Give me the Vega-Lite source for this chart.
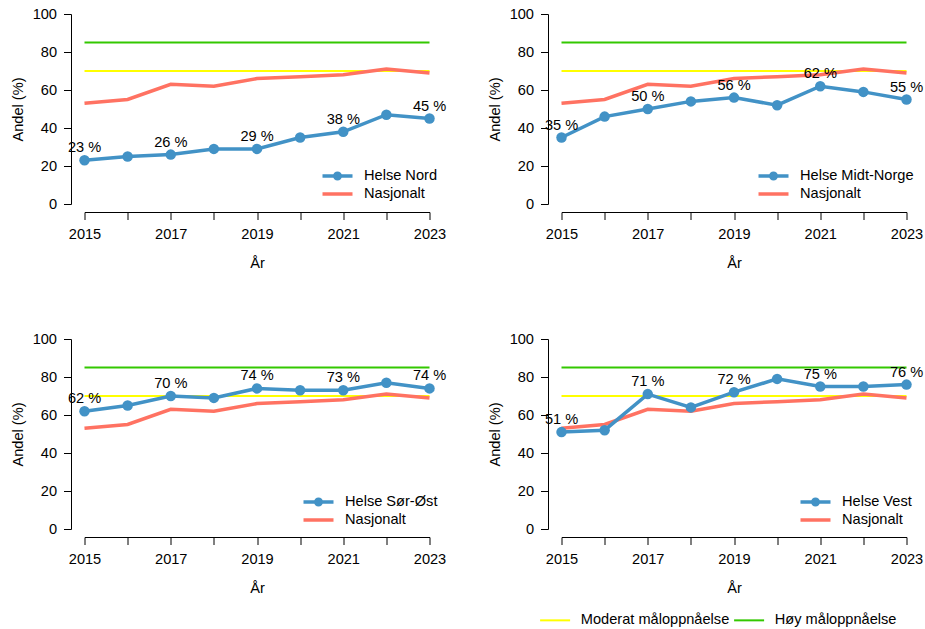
{
  "$schema": "https://vega.github.io/schema/vega-lite/v6.json",
  "padding": {"left": 9.5, "top": 6, "right": 5, "bottom": 5},
  "background": "white",
  "config": {
    "font": "Liberation Sans",
    "view": {"stroke": null},
    "axis": {"domainColor": "#000", "tickColor": "#000", "labelColor": "#000", "titleColor": "#000", "labelFontSize": 14.6, "titleFontSize": 14.6, "titleFontWeight": "normal", "grid": false, "tickSize": 7.5, "domainWidth": 1, "tickWidth": 1, "labelOverlap": false},
    "legend": {"labelFontSize": 14.6, "labelColor": "#000", "padding": 0}
  },
  "datasets": {
    "maal": [
      {"maal": "Moderat måloppnåelse", "andel": 70, "fra": 2015, "til": 2023},
      {"maal": "Høy måloppnåelse", "andel": 85, "fra": 2015, "til": 2023}
    ],
    "nasjonalt": [
      {"serie": "Nasjonalt", "aar": 2015, "andel": 53},
      {"serie": "Nasjonalt", "aar": 2016, "andel": 55},
      {"serie": "Nasjonalt", "aar": 2017, "andel": 63},
      {"serie": "Nasjonalt", "aar": 2018, "andel": 62},
      {"serie": "Nasjonalt", "aar": 2019, "andel": 66},
      {"serie": "Nasjonalt", "aar": 2020, "andel": 67},
      {"serie": "Nasjonalt", "aar": 2021, "andel": 68},
      {"serie": "Nasjonalt", "aar": 2022, "andel": 71},
      {"serie": "Nasjonalt", "aar": 2023, "andel": 69}
    ],
    "regioner": [
      {"serie": "Helse Nord", "aar": 2015, "andel": 23},
      {"serie": "Helse Nord", "aar": 2016, "andel": 25},
      {"serie": "Helse Nord", "aar": 2017, "andel": 26},
      {"serie": "Helse Nord", "aar": 2018, "andel": 29},
      {"serie": "Helse Nord", "aar": 2019, "andel": 29},
      {"serie": "Helse Nord", "aar": 2020, "andel": 35},
      {"serie": "Helse Nord", "aar": 2021, "andel": 38},
      {"serie": "Helse Nord", "aar": 2022, "andel": 47},
      {"serie": "Helse Nord", "aar": 2023, "andel": 45},
      {"serie": "Helse Midt-Norge", "aar": 2015, "andel": 35},
      {"serie": "Helse Midt-Norge", "aar": 2016, "andel": 46},
      {"serie": "Helse Midt-Norge", "aar": 2017, "andel": 50},
      {"serie": "Helse Midt-Norge", "aar": 2018, "andel": 54},
      {"serie": "Helse Midt-Norge", "aar": 2019, "andel": 56},
      {"serie": "Helse Midt-Norge", "aar": 2020, "andel": 52},
      {"serie": "Helse Midt-Norge", "aar": 2021, "andel": 62},
      {"serie": "Helse Midt-Norge", "aar": 2022, "andel": 59},
      {"serie": "Helse Midt-Norge", "aar": 2023, "andel": 55},
      {"serie": "Helse Sør-Øst", "aar": 2015, "andel": 62},
      {"serie": "Helse Sør-Øst", "aar": 2016, "andel": 65},
      {"serie": "Helse Sør-Øst", "aar": 2017, "andel": 70},
      {"serie": "Helse Sør-Øst", "aar": 2018, "andel": 69},
      {"serie": "Helse Sør-Øst", "aar": 2019, "andel": 74},
      {"serie": "Helse Sør-Øst", "aar": 2020, "andel": 73},
      {"serie": "Helse Sør-Øst", "aar": 2021, "andel": 73},
      {"serie": "Helse Sør-Øst", "aar": 2022, "andel": 77},
      {"serie": "Helse Sør-Øst", "aar": 2023, "andel": 74},
      {"serie": "Helse Vest", "aar": 2015, "andel": 51},
      {"serie": "Helse Vest", "aar": 2016, "andel": 52},
      {"serie": "Helse Vest", "aar": 2017, "andel": 71},
      {"serie": "Helse Vest", "aar": 2018, "andel": 64},
      {"serie": "Helse Vest", "aar": 2019, "andel": 72},
      {"serie": "Helse Vest", "aar": 2020, "andel": 79},
      {"serie": "Helse Vest", "aar": 2021, "andel": 75},
      {"serie": "Helse Vest", "aar": 2022, "andel": 75},
      {"serie": "Helse Vest", "aar": 2023, "andel": 76}
    ]
  },
  "columns": 2,
  "spacing": {"row": 135, "column": 132},
  "bounds": "flush",
  "resolve": {
    "scale": {"color": "independent", "shape": "independent", "stroke": "independent"},
    "legend": {"color": "independent", "shape": "independent", "stroke": "independent"}
  },
  "concat": [
    {
      "width": 345, "height": 190,
      "layer": [
        {"data": {"name": "maal"}, "mark": {"type": "rule", "strokeWidth": 2},
         "encoding": {
           "x": {"field": "fra", "type": "quantitative", "scale": {"domain": [2015, 2023], "nice": false, "zero": false}, "axis": {"title": "År", "offset": 8, "values": [2015, 2016, 2017, 2018, 2019, 2020, 2021, 2022, 2023], "format": "d", "labelExpr": "datum.value % 2 == 1 ? datum.label : ''", "labelPadding": 7, "titlePadding": 14, "labelFlush": false, "labelOverlap": false}},
           "x2": {"field": "til"},
           "y": {"field": "andel", "type": "quantitative", "scale": {"domain": [0, 100], "nice": false}, "axis": {"title": "Andel (%)", "offset": 13.5, "values": [0, 20, 40, 60, 80, 100], "tickCount": 6, "labelPadding": 7, "titlePadding": 7, "labelOverlap": false, "labelFlush": false}},
           "stroke": {"field": "maal", "type": "nominal", "scale": {"domain": ["Moderat måloppnåelse", "Høy måloppnåelse"], "range": ["#FFFF00", "#33C800"]}, "legend": null}
         }},
        {"data": {"name": "nasjonalt"}, "mark": {"type": "line", "strokeWidth": 3.5},
         "encoding": {"x": {"field": "aar", "type": "quantitative"}, "y": {"field": "andel", "type": "quantitative"},
           "color": {"field": "serie", "type": "nominal", "scale": {"domain": ["Helse Nord", "Nasjonalt"], "range": ["#4292C6", "#FF7262"]},
             "legend": {"title": null, "orient": "none", "legendX": 245, "legendY": 154, "symbolSize": 144, "symbolStrokeWidth": 3.5, "labelOffset": 18.5, "rowPadding": -2, "direction": "vertical"}}}},
        {"data": {"name": "regioner"}, "transform": [{"filter": "datum.serie == 'Helse Nord'"}], "mark": {"type": "line", "strokeWidth": 3.5},
         "encoding": {"x": {"field": "aar", "type": "quantitative"}, "y": {"field": "andel", "type": "quantitative"}, "color": {"field": "serie", "type": "nominal"}}},
        {"data": {"name": "regioner"}, "transform": [{"filter": "datum.serie == 'Helse Nord'"}], "mark": {"type": "point", "filled": true, "size": 110, "opacity": 1},
         "encoding": {"x": {"field": "aar", "type": "quantitative"}, "y": {"field": "andel", "type": "quantitative"}, "color": {"field": "serie", "type": "nominal"}}},
        {"data": {"name": "regioner"}, "transform": [{"filter": "false"}], "mark": {"type": "point", "filled": true},
         "encoding": {"x": {"field": "aar", "type": "quantitative"}, "y": {"field": "andel", "type": "quantitative"}, "color": {"field": "serie", "type": "nominal"},
           "shape": {"field": "serie", "type": "nominal", "scale": {"domain": ["Helse Nord", "Nasjonalt"], "range": ["M-2.5,0H2.5M0.46,0A0.46,0.46,0,1,1,-0.46,0A0.46,0.46,0,1,1,0.46,0Z", "M-2.5,0H2.5"]},
             "legend": {"title": null, "orient": "none", "legendX": 245, "legendY": 154, "symbolSize": 144, "symbolStrokeWidth": 3.5, "labelOffset": 18.5, "rowPadding": -2, "direction": "vertical"}}}},
        {"data": {"name": "regioner"}, "transform": [{"filter": "datum.serie == 'Helse Nord' && datum.aar % 2 == 1"}, {"calculate": "datum.andel + ' %'", "as": "etikett"}],
         "mark": {"type": "text", "dy": -8, "baseline": "alphabetic", "fontSize": 14.6, "color": "#000"},
         "encoding": {"x": {"field": "aar", "type": "quantitative"}, "y": {"field": "andel", "type": "quantitative"}, "text": {"field": "etikett"}}}
      ]
    },
    {
      "width": 345, "height": 190,
      "layer": [
        {"data": {"name": "maal"}, "mark": {"type": "rule", "strokeWidth": 2},
         "encoding": {
           "x": {"field": "fra", "type": "quantitative", "scale": {"domain": [2015, 2023], "nice": false, "zero": false}, "axis": {"title": "År", "offset": 8, "values": [2015, 2016, 2017, 2018, 2019, 2020, 2021, 2022, 2023], "format": "d", "labelExpr": "datum.value % 2 == 1 ? datum.label : ''", "labelPadding": 7, "titlePadding": 14, "labelFlush": false, "labelOverlap": false}},
           "x2": {"field": "til"},
           "y": {"field": "andel", "type": "quantitative", "scale": {"domain": [0, 100], "nice": false}, "axis": {"title": "Andel (%)", "offset": 13.5, "values": [0, 20, 40, 60, 80, 100], "tickCount": 6, "labelPadding": 7, "titlePadding": 7, "labelOverlap": false, "labelFlush": false}},
           "stroke": {"field": "maal", "type": "nominal", "scale": {"domain": ["Moderat måloppnåelse", "Høy måloppnåelse"], "range": ["#FFFF00", "#33C800"]}, "legend": null}
         }},
        {"data": {"name": "nasjonalt"}, "mark": {"type": "line", "strokeWidth": 3.5},
         "encoding": {"x": {"field": "aar", "type": "quantitative"}, "y": {"field": "andel", "type": "quantitative"},
           "color": {"field": "serie", "type": "nominal", "scale": {"domain": ["Helse Midt-Norge", "Nasjonalt"], "range": ["#4292C6", "#FF7262"]},
             "legend": {"title": null, "orient": "none", "legendX": 204, "legendY": 154, "symbolSize": 144, "symbolStrokeWidth": 3.5, "labelOffset": 18.5, "rowPadding": -2, "direction": "vertical"}}}},
        {"data": {"name": "regioner"}, "transform": [{"filter": "datum.serie == 'Helse Midt-Norge'"}], "mark": {"type": "line", "strokeWidth": 3.5},
         "encoding": {"x": {"field": "aar", "type": "quantitative"}, "y": {"field": "andel", "type": "quantitative"}, "color": {"field": "serie", "type": "nominal"}}},
        {"data": {"name": "regioner"}, "transform": [{"filter": "datum.serie == 'Helse Midt-Norge'"}], "mark": {"type": "point", "filled": true, "size": 110, "opacity": 1},
         "encoding": {"x": {"field": "aar", "type": "quantitative"}, "y": {"field": "andel", "type": "quantitative"}, "color": {"field": "serie", "type": "nominal"}}},
        {"data": {"name": "regioner"}, "transform": [{"filter": "false"}], "mark": {"type": "point", "filled": true},
         "encoding": {"x": {"field": "aar", "type": "quantitative"}, "y": {"field": "andel", "type": "quantitative"}, "color": {"field": "serie", "type": "nominal"},
           "shape": {"field": "serie", "type": "nominal", "scale": {"domain": ["Helse Midt-Norge", "Nasjonalt"], "range": ["M-2.5,0H2.5M0.46,0A0.46,0.46,0,1,1,-0.46,0A0.46,0.46,0,1,1,0.46,0Z", "M-2.5,0H2.5"]},
             "legend": {"title": null, "orient": "none", "legendX": 204, "legendY": 154, "symbolSize": 144, "symbolStrokeWidth": 3.5, "labelOffset": 18.5, "rowPadding": -2, "direction": "vertical"}}}},
        {"data": {"name": "regioner"}, "transform": [{"filter": "datum.serie == 'Helse Midt-Norge' && datum.aar % 2 == 1"}, {"calculate": "datum.andel + ' %'", "as": "etikett"}],
         "mark": {"type": "text", "dy": -8, "baseline": "alphabetic", "fontSize": 14.6, "color": "#000"},
         "encoding": {"x": {"field": "aar", "type": "quantitative"}, "y": {"field": "andel", "type": "quantitative"}, "text": {"field": "etikett"}}}
      ]
    },
    {
      "width": 345, "height": 190,
      "layer": [
        {"data": {"name": "maal"}, "mark": {"type": "rule", "strokeWidth": 2},
         "encoding": {
           "x": {"field": "fra", "type": "quantitative", "scale": {"domain": [2015, 2023], "nice": false, "zero": false}, "axis": {"title": "År", "offset": 8, "values": [2015, 2016, 2017, 2018, 2019, 2020, 2021, 2022, 2023], "format": "d", "labelExpr": "datum.value % 2 == 1 ? datum.label : ''", "labelPadding": 7, "titlePadding": 14, "labelFlush": false, "labelOverlap": false}},
           "x2": {"field": "til"},
           "y": {"field": "andel", "type": "quantitative", "scale": {"domain": [0, 100], "nice": false}, "axis": {"title": "Andel (%)", "offset": 13.5, "values": [0, 20, 40, 60, 80, 100], "tickCount": 6, "labelPadding": 7, "titlePadding": 7, "labelOverlap": false, "labelFlush": false}},
           "stroke": {"field": "maal", "type": "nominal", "scale": {"domain": ["Moderat måloppnåelse", "Høy måloppnåelse"], "range": ["#FFFF00", "#33C800"]}, "legend": null}
         }},
        {"data": {"name": "nasjonalt"}, "mark": {"type": "line", "strokeWidth": 3.5},
         "encoding": {"x": {"field": "aar", "type": "quantitative"}, "y": {"field": "andel", "type": "quantitative"},
           "color": {"field": "serie", "type": "nominal", "scale": {"domain": ["Helse Sør-Øst", "Nasjonalt"], "range": ["#4292C6", "#FF7262"]},
             "legend": {"title": null, "orient": "none", "legendX": 226, "legendY": 155, "symbolSize": 144, "symbolStrokeWidth": 3.5, "labelOffset": 18.5, "rowPadding": -2, "direction": "vertical"}}}},
        {"data": {"name": "regioner"}, "transform": [{"filter": "datum.serie == 'Helse Sør-Øst'"}], "mark": {"type": "line", "strokeWidth": 3.5},
         "encoding": {"x": {"field": "aar", "type": "quantitative"}, "y": {"field": "andel", "type": "quantitative"}, "color": {"field": "serie", "type": "nominal"}}},
        {"data": {"name": "regioner"}, "transform": [{"filter": "datum.serie == 'Helse Sør-Øst'"}], "mark": {"type": "point", "filled": true, "size": 110, "opacity": 1},
         "encoding": {"x": {"field": "aar", "type": "quantitative"}, "y": {"field": "andel", "type": "quantitative"}, "color": {"field": "serie", "type": "nominal"}}},
        {"data": {"name": "regioner"}, "transform": [{"filter": "false"}], "mark": {"type": "point", "filled": true},
         "encoding": {"x": {"field": "aar", "type": "quantitative"}, "y": {"field": "andel", "type": "quantitative"}, "color": {"field": "serie", "type": "nominal"},
           "shape": {"field": "serie", "type": "nominal", "scale": {"domain": ["Helse Sør-Øst", "Nasjonalt"], "range": ["M-2.5,0H2.5M0.46,0A0.46,0.46,0,1,1,-0.46,0A0.46,0.46,0,1,1,0.46,0Z", "M-2.5,0H2.5"]},
             "legend": {"title": null, "orient": "none", "legendX": 226, "legendY": 155, "symbolSize": 144, "symbolStrokeWidth": 3.5, "labelOffset": 18.5, "rowPadding": -2, "direction": "vertical"}}}},
        {"data": {"name": "regioner"}, "transform": [{"filter": "datum.serie == 'Helse Sør-Øst' && datum.aar % 2 == 1"}, {"calculate": "datum.andel + ' %'", "as": "etikett"}],
         "mark": {"type": "text", "dy": -8, "baseline": "alphabetic", "fontSize": 14.6, "color": "#000"},
         "encoding": {"x": {"field": "aar", "type": "quantitative"}, "y": {"field": "andel", "type": "quantitative"}, "text": {"field": "etikett"}}}
      ]
    },
    {
      "width": 345, "height": 190,
      "layer": [
        {"data": {"name": "maal"}, "mark": {"type": "rule", "strokeWidth": 2},
         "encoding": {
           "x": {"field": "fra", "type": "quantitative", "scale": {"domain": [2015, 2023], "nice": false, "zero": false}, "axis": {"title": "År", "offset": 8, "values": [2015, 2016, 2017, 2018, 2019, 2020, 2021, 2022, 2023], "format": "d", "labelExpr": "datum.value % 2 == 1 ? datum.label : ''", "labelPadding": 7, "titlePadding": 14, "labelFlush": false, "labelOverlap": false}},
           "x2": {"field": "til"},
           "y": {"field": "andel", "type": "quantitative", "scale": {"domain": [0, 100], "nice": false}, "axis": {"title": "Andel (%)", "offset": 13.5, "values": [0, 20, 40, 60, 80, 100], "tickCount": 6, "labelPadding": 7, "titlePadding": 7, "labelOverlap": false, "labelFlush": false}},
           "stroke": {"field": "maal", "type": "nominal", "scale": {"domain": ["Moderat måloppnåelse", "Høy måloppnåelse"], "range": ["#FFFF00", "#33C800"]},
             "legend": {"title": null, "orient": "none", "legendX": -13.7, "legendY": 274, "direction": "horizontal", "symbolType": "M-2.5,0H2.5", "symbolSize": 144, "symbolStrokeWidth": 2, "labelOffset": 18.4, "columnPadding": 0}}
         }},
        {"data": {"name": "nasjonalt"}, "mark": {"type": "line", "strokeWidth": 3.5},
         "encoding": {"x": {"field": "aar", "type": "quantitative"}, "y": {"field": "andel", "type": "quantitative"},
           "color": {"field": "serie", "type": "nominal", "scale": {"domain": ["Helse Vest", "Nasjonalt"], "range": ["#4292C6", "#FF7262"]},
             "legend": {"title": null, "orient": "none", "legendX": 246, "legendY": 155, "symbolSize": 144, "symbolStrokeWidth": 3.5, "labelOffset": 18.5, "rowPadding": -2, "direction": "vertical"}}}},
        {"data": {"name": "regioner"}, "transform": [{"filter": "datum.serie == 'Helse Vest'"}], "mark": {"type": "line", "strokeWidth": 3.5},
         "encoding": {"x": {"field": "aar", "type": "quantitative"}, "y": {"field": "andel", "type": "quantitative"}, "color": {"field": "serie", "type": "nominal"}}},
        {"data": {"name": "regioner"}, "transform": [{"filter": "datum.serie == 'Helse Vest'"}], "mark": {"type": "point", "filled": true, "size": 110, "opacity": 1},
         "encoding": {"x": {"field": "aar", "type": "quantitative"}, "y": {"field": "andel", "type": "quantitative"}, "color": {"field": "serie", "type": "nominal"}}},
        {"data": {"name": "regioner"}, "transform": [{"filter": "false"}], "mark": {"type": "point", "filled": true},
         "encoding": {"x": {"field": "aar", "type": "quantitative"}, "y": {"field": "andel", "type": "quantitative"}, "color": {"field": "serie", "type": "nominal"},
           "shape": {"field": "serie", "type": "nominal", "scale": {"domain": ["Helse Vest", "Nasjonalt"], "range": ["M-2.5,0H2.5M0.46,0A0.46,0.46,0,1,1,-0.46,0A0.46,0.46,0,1,1,0.46,0Z", "M-2.5,0H2.5"]},
             "legend": {"title": null, "orient": "none", "legendX": 246, "legendY": 155, "symbolSize": 144, "symbolStrokeWidth": 3.5, "labelOffset": 18.5, "rowPadding": -2, "direction": "vertical"}}}},
        {"data": {"name": "regioner"}, "transform": [{"filter": "datum.serie == 'Helse Vest' && datum.aar % 2 == 1"}, {"calculate": "datum.andel + ' %'", "as": "etikett"}],
         "mark": {"type": "text", "dy": -8, "baseline": "alphabetic", "fontSize": 14.6, "color": "#000"},
         "encoding": {"x": {"field": "aar", "type": "quantitative"}, "y": {"field": "andel", "type": "quantitative"}, "text": {"field": "etikett"}}}
      ]
    }
  ]
}
